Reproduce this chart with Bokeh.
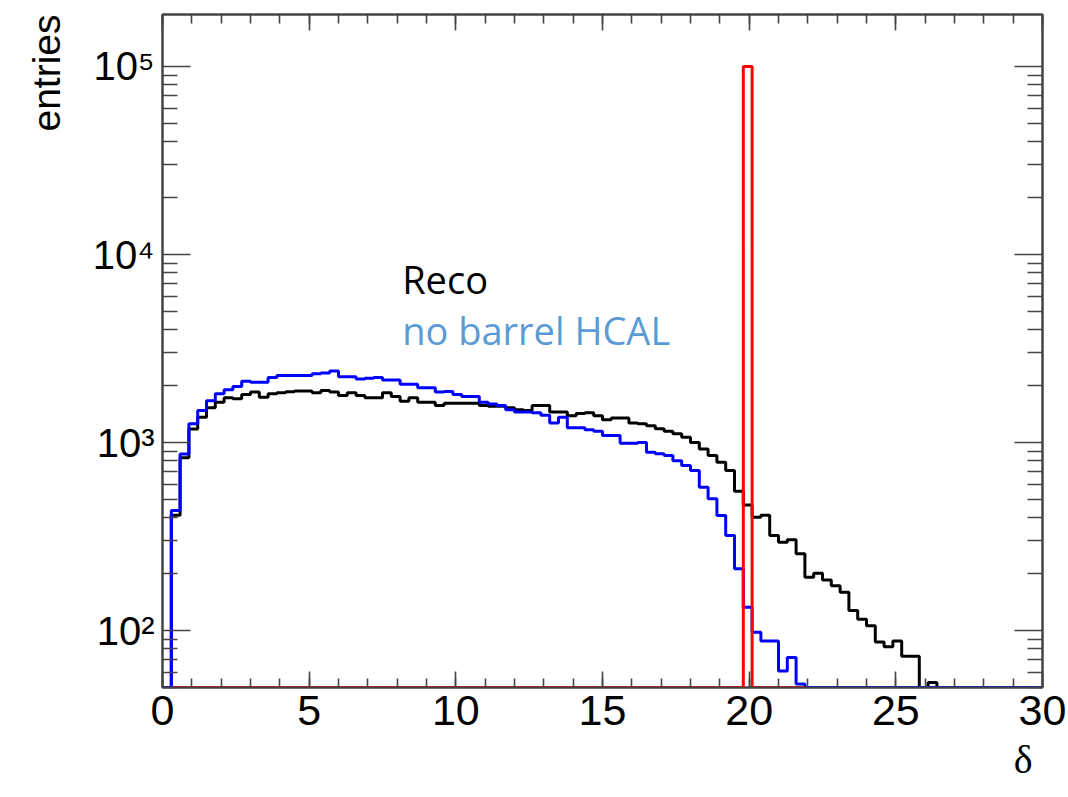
import numpy as np
from bokeh.plotting import figure
from bokeh.models import Range1d, LinearAxis, LogAxis, FixedTicker, Label, CustomJSTickFormatter, Title
from bokeh.embed import file_html
from bokeh.resources import INLINE

# ---------------- data ----------------
x_lo, x_hi, n_bins = 0.0, 30.0, 100
bin_edges = np.linspace(x_lo, x_hi, n_bins + 1)

reco_counts = [
    0, 410, 830, 1180, 1365, 1530, 1640, 1730, 1710, 1800,
    1855, 1740, 1820, 1840, 1860, 1880, 1880, 1840, 1890, 1855,
    1780, 1840, 1780, 1730, 1730, 1840, 1760, 1660, 1730, 1640,
    1640, 1575, 1620, 1620, 1620, 1620, 1575, 1560, 1560, 1530,
    1495, 1480, 1575, 1575, 1455, 1455, 1390, 1425, 1440, 1390,
    1322, 1350, 1350, 1270, 1260, 1230, 1183, 1148, 1112, 1067,
    1000, 925, 852, 785, 710, 550, 465, 400, 410, 320,
    295, 304, 256, 192, 202, 186, 173, 160, 128, 115,
    106, 87, 82, 88, 73, 73, 0, 53, 0, 0,
    0, 0, 0, 0, 0, 0, 0, 0, 0, 0,
]

nohcal_counts = [
    0, 435, 870, 1260, 1480, 1670, 1820, 1910, 1985, 2120,
    2090, 2090, 2220, 2270, 2270, 2270, 2270, 2320, 2340, 2400,
    2240, 2240, 2180, 2200, 2220, 2150, 2150, 2040, 2040, 1955,
    1955, 1855, 1870, 1800, 1760, 1760, 1640, 1605, 1575, 1495,
    1455, 1455, 1440, 1395, 1270, 1365, 1197, 1197, 1168, 1148,
    1089, 1089, 991, 991, 1000, 888, 871, 852, 801, 755,
    710, 578, 502, 409, 320, 213, 133, 98, 88, 88,
    61, 72, 52, 0, 0, 0, 0, 0, 0, 0,
    0, 0, 0, 0, 0, 0, 0, 0, 0, 0,
    0, 0, 0, 0, 0, 0, 0, 0, 0, 0,
]

truth_edges = [0.3, 19.8, 20.1, 21.9]
truth_counts = [0, 100000, 0]

x_major = [0, 5, 10, 15, 20, 25, 30]
x_minor = list(range(0, 31))
y_major = [1e2, 1e3, 1e4, 1e5]
y_major_labels = ["10\u00b2", "10\u00b3", "10\u2074", "10\u2075"]
y_lo, y_hi = 49.8, 1.89e5

x_title = "\u03b4"
y_title = "entries"
legend_texts = ["Reco", "no barrel HCAL"]
legend_colors = ["#000000", "#5b9bd5"]

# ---------------- figure ----------------
p = figure(width=1068, height=797,
           x_range=Range1d(x_lo, x_hi), y_range=Range1d(y_lo, y_hi),
           y_axis_type="log", output_backend="svg", toolbar_location=None,
           min_border_left=161, min_border_right=26,
           min_border_top=14, min_border_bottom=110)
p.grid.visible = False
p.background_fill_color = "white"
p.border_fill_color = "white"
p.outline_line_color = "#444444"
p.outline_line_width = 2

y_minor = [m * 10.0 ** k for k in range(1, 6) for m in range(2, 10)]
xt = FixedTicker(ticks=x_major, minor_ticks=x_minor)
yt = FixedTicker(ticks=y_major, minor_ticks=y_minor)
overrides = {float(v): s for v, s in zip(y_major, y_major_labels)}

def style_axis(ax, major_in, minor_in):
    ax.major_tick_in = major_in
    ax.major_tick_out = 0
    ax.minor_tick_in = minor_in
    ax.minor_tick_out = 0
    ax.axis_line_color = "#444444"
    ax.axis_line_width = 2
    ax.major_tick_line_color = "#444444"
    ax.major_tick_line_width = 1.6
    ax.minor_tick_line_color = "#444444"
    ax.minor_tick_line_width = 1.6
    ax.major_label_text_font = "Liberation Sans"
    ax.major_label_text_color = "black"

bx = p.xaxis[0]
bx.ticker = xt
style_axis(bx, 16, 9)
bx.major_label_text_font_size = "43px"
bx.major_label_standoff = 8

ly = p.yaxis[0]
ly.ticker = yt
ly.major_label_overrides = overrides
style_axis(ly, 28, 15)
ly.major_label_text_font_size = "40px"
ly.major_label_standoff = 8

tx = LinearAxis(ticker=xt, formatter=CustomJSTickFormatter(code="return ''"))
style_axis(tx, 16, 9)
tx.major_label_text_font_size = "2px"
tx.major_label_standoff = 0
p.add_layout(tx, "above")

ry = LogAxis(ticker=yt, formatter=CustomJSTickFormatter(code="return ''"))
style_axis(ry, 28, 15)
ry.major_label_text_font_size = "2px"
ry.major_label_standoff = 0
p.add_layout(ry, "right")

def step_xy(edges, counts):
    ys = np.clip(np.asarray(counts, dtype=float), y_lo, None)
    return list(edges), list(ys) + [ys[-1]]

xs, ys = step_xy(bin_edges, reco_counts)
p.step(xs, ys, mode="after", line_color="black", line_width=3)
xs, ys = step_xy(bin_edges, nohcal_counts)
p.step(xs, ys, mode="after", line_color="#0000ff", line_width=3)
xs, ys = step_xy(truth_edges, truth_counts)
p.step(xs, ys, mode="after", line_color="#ff0000", line_width=3)

# legend texts
p.add_layout(Label(x=8.17, y=7450, text=legend_texts[0], text_color=legend_colors[0],
                   text_font="Open Sans", text_font_size="38px", text_baseline="alphabetic"))
p.add_layout(Label(x=8.17, y=3945, text=legend_texts[1], text_color=legend_colors[1],
                   text_font="Open Sans", text_font_size="38px", text_baseline="alphabetic"))

# axis titles (in the side panels, outside the frame)
p.add_layout(Title(text=y_title, align="right", vertical_align="bottom",
                   text_font="Liberation Sans", text_font_size="39px",
                   text_font_style="normal", text_color="black", standoff=44), "left")
p.add_layout(Title(text=x_title, align="right", vertical_align="bottom",
                   text_font="Liberation Serif", text_font_size="40px",
                   text_font_style="normal", text_color="black", standoff=14,
                   offset=10), "below")

open("out.html", "w").write(file_html(p, INLINE))
